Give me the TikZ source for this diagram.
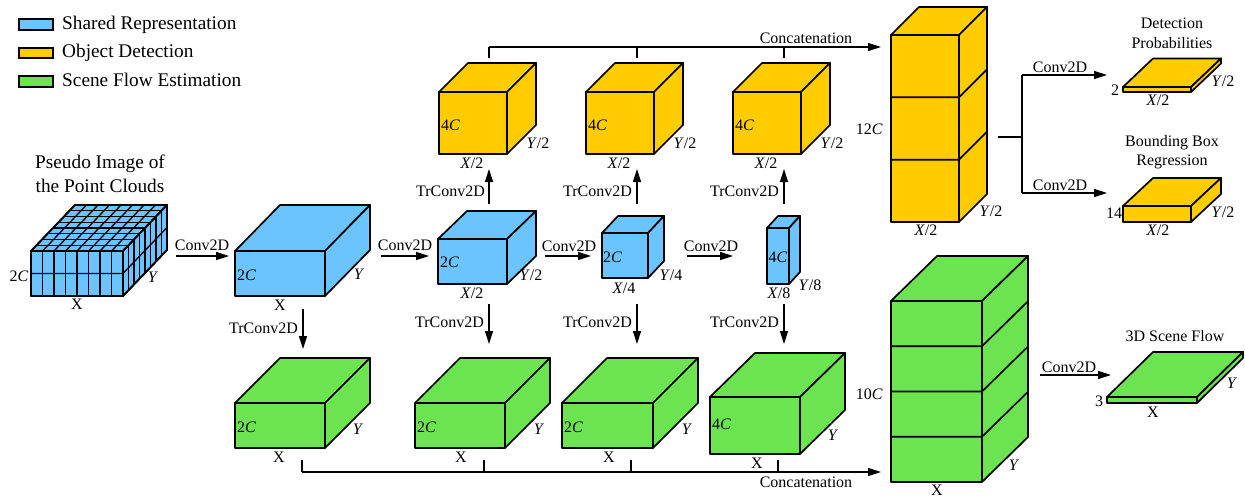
\documentclass[tikz,border=0pt]{standalone}
\usepackage{fontspec}
\setmainfont{Liberation Serif}
\usetikzlibrary{arrows.meta}
\definecolor{cblue}{RGB}{108,196,255}
\definecolor{cyellow}{RGB}{255,204,0}
\definecolor{cgreen}{RGB}{108,228,82}
\tikzset{
  cube/.style={draw=black, line width=1.7pt, line join=round},
  gridl/.style={draw=black, line width=1.3pt},
  conn/.style={draw=black, line width=1.3pt},
  arr/.style={conn, -{Triangle[length=13pt,width=8pt]}},
  lbl/.style={font=\fontsize{16}{18}\selectfont, inner sep=0pt},
  big/.style={font=\fontsize{19.3}{24}\selectfont, inner sep=0pt},
  legbox/.style={draw=black, line width=1.6pt},
}
% x, y (front top-left), w, h, dx, dy (depth, up), colour
\newcommand\cuboid[7]{%
  \filldraw[cube,fill=#7] (#1,#2) rectangle ++(#3,#4);
  \filldraw[cube,fill=#7] (#1,#2) -- ++(#5,-#6) -- ++(#3,0) -- ++(-#5,#6) -- cycle;
  \filldraw[cube,fill=#7] (#1+#3,#2) -- ++(#5,-#6) -- ++(0,#4) -- ++(-#5,#6) -- cycle;
}
% slice line: x, y, w, dx, dy
\newcommand\cubeslice[5]{%
  \draw[cube] (#1,#2) -- ++(#3,0) -- ++(#4,-#5);
}
\begin{document}
\begin{tikzpicture}[x=1pt,y=-1pt]
\useasboundingbox (0,0) rectangle (1245,498);

% ---------------- legend
\filldraw[legbox,fill=cblue] (19,19) rectangle (53,30);
\filldraw[legbox,fill=cyellow] (19,48) rectangle (53,58);
\filldraw[legbox,fill=cgreen] (19,76) rectangle (53,87);
\node[big,anchor=base west] (leg1) at (62,29.3) {Shared Representation};
\node[big,anchor=base west] (leg2) at (62,57.3) {Object Detection};
\node[big,anchor=base west] (leg3) at (62,86) {Scene Flow Estimation};

% ---------------- pseudo image
\node[big,anchor=base] (pt1) at (100,168) {Pseudo Image of};
\node[big,anchor=base] (pt2) at (100,192.5) {the Point Clouds};
\cuboid{31}{251}{92}{45}{44}{46}{cblue}
\foreach \k in {1,...,7} {
  \draw[gridl] (31+\k*11.5,251) -- ++(0,45);
  \draw[gridl] (31+\k*11.5,251) -- ++(44,-46);
  \draw[gridl] (123+\k*5.5,251-\k*5.75) -- ++(0,45);
  \draw[gridl] (31+\k*5.5,251-\k*5.75) -- ++(92,0);
}
\draw[gridl] (31,273.5) -- ++(92,0) -- ++(44,-46);
\draw[cube] (31,251) rectangle ++(92,45);
\draw[cube] (31,251) -- ++(44,-46) -- ++(92,0) -- ++(0,45) -- ++(-44,46);
\draw[cube] (123,251) -- ++(44,-46);
\node[lbl] (p2c) at (19,276) {2\textit{C}};
\node[lbl] (pY) at (153,277) {\textit{Y}};
\node[lbl] (pX) at (77,304) {X};

% ---------------- shared representation (blue)
\cuboid{235}{251}{90}{45}{45}{46}{cblue}
\node[lbl,anchor=west] (b1c) at (237,275) {2\textit{C}};
\node[lbl] (b1y) at (359,274) {\textit{Y}};
\node[lbl] (b1x) at (280,305) {X};

\cuboid{438}{239}{69}{45}{29}{28}{cblue}
\node[lbl,anchor=west] (b2c) at (440,262) {2\textit{C}};
\node[lbl] (b2y) at (531,275) {\textit{Y}/2};
\node[lbl] (b2x) at (472,293) {\textit{X}/2};

\cuboid{602}{233}{46}{45}{16}{17}{cblue}
\node[lbl,anchor=west] (b3c) at (603,257) {2\textit{C}};
\node[lbl] (b3y) at (671,275) {\textit{Y}/4};
\node[lbl] (b3x) at (624,288) {\textit{X}/4};

\cuboid{767}{228}{22}{56}{11}{12}{cblue}
\node[lbl] (b4c) at (778,257) {4\textit{C}};
\node[lbl] (b4y) at (810,285) {\textit{Y}/8};
\node[lbl] (b4x) at (779,293) {\textit{X}/8};

% Conv2D arrows along the row
\coordinate (a1s) at (176,256); \coordinate (a1e) at (229,256);
\coordinate (a2s) at (381,256); \coordinate (a2e) at (429,256);
\coordinate (a3s) at (545,256); \coordinate (a3e) at (591,256);
\coordinate (a4s) at (687,256); \coordinate (a4e) at (733,256);
\draw[arr] (a1s) -- (a1e);
\draw[arr] (a2s) -- (a2e);
\draw[arr] (a3s) -- (a3e);
\draw[arr] (a4s) -- (a4e);
\node[lbl] (k1) at (202,245) {Conv2D};
\node[lbl] (k2) at (405,245) {Conv2D};
\node[lbl] (k3) at (569,246) {Conv2D};
\node[lbl] (k4) at (711,246) {Conv2D};

% ---------------- object detection (yellow)
\cuboid{439}{92}{68}{62}{29}{29}{cyellow}
\cuboid{586}{92}{68}{62}{29}{29}{cyellow}
\cuboid{733}{92}{68}{62}{29}{29}{cyellow}
\foreach \s/\n in {0/ya,147/yb,294/yc} {
  \node[lbl,anchor=west] (\n c) at (441+\s,125) {4\textit{C}};
  \node[lbl] (\n y) at (538+\s,143) {\textit{Y}/2};
  \node[lbl] (\n x) at (472+\s,163) {\textit{X}/2};
}
% TrConv2D up
\coordinate (u1s) at (489,204); \coordinate (u1e) at (489,169);
\coordinate (u2s) at (637,204); \coordinate (u2e) at (637,169);
\coordinate (u3s) at (784,204); \coordinate (u3e) at (784,169);
\draw[arr] (u1s) -- (u1e);
\draw[arr] (u2s) -- (u2e);
\draw[arr] (u3s) -- (u3e);
\node[lbl,anchor=east] (tu1) at (485,191) {TrConv2D};
\node[lbl,anchor=east] (tu2) at (632,191) {TrConv2D};
\node[lbl,anchor=east] (tu3) at (779,191) {TrConv2D};

% top concatenation
\coordinate (ct1) at (489,58); \coordinate (cj1) at (489,47);
\coordinate (ct2) at (637,58); \coordinate (cj2) at (637,47);
\coordinate (ct3) at (784,58); \coordinate (cj3) at (784,47);
\coordinate (cte) at (881,47);
\draw[conn] (ct1) -- (cj1);
\draw[conn] (ct2) -- (cj2);
\draw[conn] (ct3) -- (cj3);
\draw[arr] (cj1) -- (cte);
\node[lbl] (catt) at (806,38) {Concatenation};

% big yellow
\cuboid{891}{35}{68}{187}{28}{28}{cyellow}
\cubeslice{891}{97.33}{68}{28}{28}
\cubeslice{891}{159.67}{68}{28}{28}
\node[lbl,anchor=east] (y12) at (883,129) {12\textit{C}};
\node[lbl] (yby) at (991,211) {\textit{Y}/2};
\node[lbl] (ybx) at (926,230) {\textit{X}/2};

% branch
\coordinate (bs) at (998,137); \coordinate (bj) at (1022,137);
\coordinate (bt) at (1022,75); \coordinate (bb) at (1022,193);
\coordinate (bte) at (1107,75); \coordinate (bbe) at (1107,193);
\draw[conn] (bs) -- (bj);
\draw[conn] (bt) -- (bb);
\draw[arr] (bt) -- (bte);
\draw[arr] (bb) -- (bbe);
\node[lbl] (k5) at (1060,67) {Conv2D};
\node[lbl] (k6) at (1060,185) {Conv2D};

% detection probabilities slab
\cuboid{1123}{87}{68}{5}{30}{28.5}{cyellow}
\node[lbl] (dp1) at (1172,23) {Detection};
\node[lbl] (dp2) at (1172,43) {Probabilities};
\node[lbl] (dpc) at (1115,90) {2};
\node[lbl] (dpy) at (1223,81) {\textit{Y}/2};
\node[lbl] (dpx) at (1158,100) {\textit{X}/2};

% bounding box slab
\cuboid{1123}{206}{68}{16}{30}{28}{cyellow}
\node[lbl] (bb1) at (1172,143) {Bounding Box};
\node[lbl] (bb2) at (1172,162) {Regression};
\node[lbl] (bbc) at (1114,213) {14};
\node[lbl] (bby) at (1223,212) {\textit{Y}/2};
\node[lbl] (bbx) at (1158,230) {\textit{X}/2};

% ---------------- scene flow (green)
% TrConv2D down
\coordinate (d0s) at (303,309); \coordinate (d0e) at (303,349);
\coordinate (d1s) at (489,304); \coordinate (d1e) at (489,344);
\coordinate (d2s) at (637,304); \coordinate (d2e) at (637,344);
\coordinate (d3s) at (784,304); \coordinate (d3e) at (784,344);
\draw[arr] (d0s) -- (d0e);
\draw[arr] (d1s) -- (d1e);
\draw[arr] (d2s) -- (d2e);
\draw[arr] (d3s) -- (d3e);
\node[lbl,anchor=east] (td0) at (298,328) {TrConv2D};
\node[lbl,anchor=east] (td1) at (484,322) {TrConv2D};
\node[lbl,anchor=east] (td2) at (632,322) {TrConv2D};
\node[lbl,anchor=east] (td3) at (779,322) {TrConv2D};

\cuboid{235}{403}{90}{45}{45}{45}{cgreen}
\cuboid{415}{403}{90}{45}{45}{45}{cgreen}
\cuboid{562}{403}{91}{45}{45}{45}{cgreen}
\cuboid{710}{397}{90}{57}{45}{44}{cgreen}
\node[lbl,anchor=west] (g1c) at (237,427) {2\textit{C}};
\node[lbl,anchor=west] (g2c) at (417,427) {2\textit{C}};
\node[lbl,anchor=west] (g3c) at (564,427) {2\textit{C}};
\node[lbl,anchor=west] (g4c) at (712,424) {4\textit{C}};
\node[lbl] (g1y) at (358,429) {\textit{Y}};
\node[lbl] (g2y) at (539,429) {\textit{Y}};
\node[lbl] (g3y) at (687,429) {\textit{Y}};
\node[lbl] (g4y) at (833,435) {\textit{Y}};
\node[lbl] (g1x) at (279,457) {X};
\node[lbl] (g2x) at (461,457) {X};
\node[lbl] (g3x) at (609,457) {X};
\node[lbl] (g4x) at (757,463) {X};

% bottom concatenation
\coordinate (cb1) at (302,460); \coordinate (cbj1) at (302,472);
\coordinate (cb2) at (484,460); \coordinate (cbj2) at (484,472);
\coordinate (cb3) at (631,460); \coordinate (cbj3) at (631,472);
\coordinate (cb4) at (778,460); \coordinate (cbj4) at (778,472);
\coordinate (cbe) at (881,472);
\draw[conn] (cb1) -- (cbj1);
\draw[conn] (cb2) -- (cbj2);
\draw[conn] (cb3) -- (cbj3);
\draw[conn] (cb4) -- (cbj4);
\draw[arr] (cbj1) -- (cbe);
\node[lbl] (catb) at (806,482) {Concatenation};

% big green
\cuboid{891}{301}{91}{181}{46}{45}{cgreen}
\cubeslice{891}{346.25}{91}{46}{45}
\cubeslice{891}{391.5}{91}{46}{45}
\cubeslice{891}{436.75}{91}{46}{45}
\node[lbl,anchor=east] (g10) at (883,394) {10\textit{C}};
\node[lbl] (gby) at (1014,465) {\textit{Y}};
\node[lbl] (gbx) at (937,490) {X};

% scene flow output
\coordinate (sfs) at (1040,375); \coordinate (sfe) at (1111,375);
\draw[arr] (sfs) -- (sfe);
\node[lbl] (k7) at (1069,367) {Conv2D};
\cuboid{1107}{397}{90}{6}{46}{45}{cgreen}
\node[lbl] (sft) at (1175,336) {3D Scene Flow};
\node[lbl] (sfc) at (1099,401) {3};
\node[lbl] (sfy) at (1232,383) {\textit{Y}};
\node[lbl] (sfx) at (1153,412) {X};
\end{tikzpicture}
\end{document}
